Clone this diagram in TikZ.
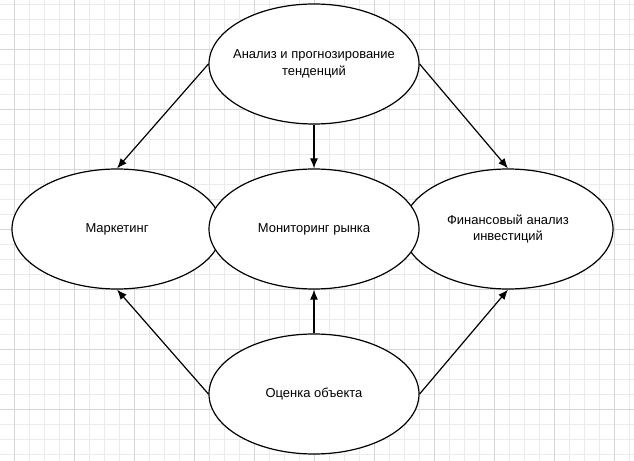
\documentclass[tikz,border=0pt]{standalone}
\usepackage{fontspec}
\setmainfont{Liberation Sans}
\usetikzlibrary{arrows.meta,shapes.geometric}
\tikzset{oval/.style={draw,ellipse,fill=white,line width=1.2bp,minimum width=210bp,minimum height=120bp,inner xsep=-40bp,inner ysep=0pt,align=center,font=\fontsize{13}{16.5}\selectfont},
gridminor/.style={draw=black!8,line width=0.8bp},gridmajor/.style={draw=black!16,line width=0.8bp}}
\begin{document}
\begin{tikzpicture}[>={Latex[length=10bp,width=8bp]},x=1bp,y=-1bp]
\useasboundingbox (0,0) rectangle (634,461);
\fill[white] (0,0) rectangle (634,461);
\foreach \gx in {0,...,41} \draw[gridminor] ({14.7+15*\gx},0) -- ++(0,461);
\foreach \gy in {0,...,30} \draw[gridminor] (0,{4.3+15*\gy}) -- ++(634,0);
\foreach \gx in {0,...,10} \draw[gridmajor] ({14.7+60*\gx},0) -- ++(0,461);
\foreach \gy in {0,...,7} \draw[gridmajor] (0,{49.3+60*\gy}) -- ++(634,0);
\node[oval] (marketing) at (117,229) {Маркетинг};
\node[oval] (finansy) at (508,229) {Финансовый анализ\\инвестиций};
\node[oval] (monitoring) at (314,229) {Мониторинг рынка};
\node[oval] (analiz) at (314,64) {Анализ и прогнозирование\\тенденций};
\node[oval] (ocenka) at (314,394) {Оценка объекта};
\draw[->,line width=1.2bp] (analiz.west)--(marketing.north);
\draw[->,line width=1.2bp] (analiz.south)--(monitoring.north);
\draw[->,line width=1.2bp] (analiz.east)--(finansy.north);
\draw[->,line width=1.2bp] (ocenka.west)--(marketing.south);
\draw[->,line width=1.2bp] (ocenka.north)--(monitoring.south);
\draw[->,line width=1.2bp] (ocenka.east)--(finansy.south);
\end{tikzpicture}
\end{document}
